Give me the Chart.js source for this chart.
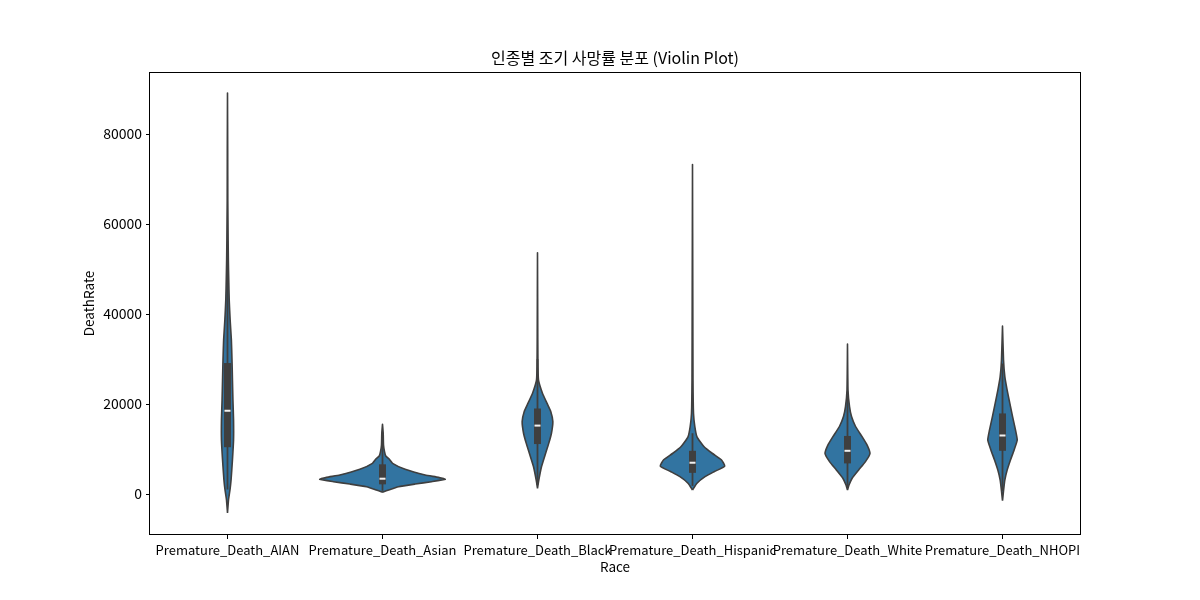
<!DOCTYPE html>
<html>
<head>
<meta charset="utf-8">
<script src="https://cdn.jsdelivr.net/npm/chart.js@4.4.1/dist/chart.umd.min.js"></script>
<style>
  html, body { margin: 0; padding: 0; background: #fff; }
  #wrap { width: 1200px; height: 600px; }
</style>
</head>
<body>
<div id="wrap"><canvas id="c" width="1200" height="600"></canvas></div>
<script>
// ---- data ----
const categories = ["Premature_Death_AIAN", "Premature_Death_Asian", "Premature_Death_Black",
                    "Premature_Death_Hispanic", "Premature_Death_White", "Premature_Death_NHOPI"];
const yTicks = [0, 20000, 40000, 60000, 80000];

// inner box statistics
const q1 = [10400, 2150, 11100, 4700, 6800, 9600];
const medians = [18500, 3400, 15200, 6950, 9600, 13000];
const q3 = [29100, 6600, 19000, 9600, 12900, 17900];
const whiskerLow = [1000, 700, 2000, 1800, 1500, 700];
const whiskerHigh = [52400, 12500, 30000, 13500, 21800, 29000];

// violin outlines: value levels and half-width (in category units) at each level
const aianY = [-4200, -1300, 900, 3100, 7600, 12000, 16400, 20900, 25300, 29800, 34200, 38700, 43100, 47600, 52000, 56400, 60900, 65300, 76400, 89100];
const aianW = [0, 0.0065, 0.016, 0.023, 0.032, 0.039, 0.039, 0.035, 0.032, 0.029, 0.025, 0.017, 0.011, 0.008, 0.0055, 0.004, 0.003, 0.0019, 0.0013, 0];
const asianY = [380, 890, 1620, 2220, 2730, 3270, 3700, 4220, 5480, 6820, 7780, 8440, 9400, 10900, 13500, 15500];
const asianW = [0, 0.039, 0.103, 0.211, 0.316, 0.405, 0.361, 0.275, 0.146, 0.065, 0.043, 0.021, 0.013, 0.0065, 0.0045, 0];
const blackY = [1270, 3100, 6100, 9000, 11300, 13500, 16100, 18300, 20200, 22400, 25300, 28300, 34200, 53600];
const blackW = [0, 0.0084, 0.026, 0.052, 0.073, 0.090, 0.099, 0.086, 0.061, 0.032, 0.0065, 0.0032, 0.0019, 0];
const hispanicY = [900, 2400, 3850, 5000, 6200, 7600, 9000, 10500, 12700, 15000, 17900, 25300, 43100, 73200];
const hispanicW = [0, 0.029, 0.081, 0.142, 0.208, 0.186, 0.129, 0.075, 0.029, 0.015, 0.0065, 0.0032, 0.0019, 0];
const whiteY = [900, 2000, 3500, 5300, 7200, 9000, 10900, 12700, 15000, 17200, 19400, 23100, 33300];
const whiteW = [0, 0.0097, 0.030, 0.071, 0.116, 0.145, 0.126, 0.095, 0.052, 0.026, 0.013, 0.0032, 0];
const nhopiY = [-1500, 700, 3100, 5300, 7600, 9800, 12000, 14200, 17200, 20200, 23100, 26100, 29800, 37300];
const nhopiW = [0, 0.0065, 0.015, 0.030, 0.052, 0.075, 0.095, 0.084, 0.065, 0.047, 0.030, 0.015, 0.0065, 0];

const violinYs = [aianY, asianY, blackY, hispanicY, whiteY, nhopiY];
const violinWs = [aianW, asianW, blackW, hispanicW, whiteW, nhopiW];

// ---- styling ----
const FILL = '#3274a1';
const DARK = '#3f3f3f';
const FONT = "'Noto Sans CJK KR', 'Noto Sans', sans-serif";
Chart.defaults.font.family = FONT;
Chart.defaults.color = '#000';

function violinPoints(i) {
  const ys = violinYs[i], ws = violinWs[i];
  const pts = [];
  for (let k = 0; k < ys.length; k++) pts.push({x: i + ws[k], y: ys[k]});
  for (let k = ys.length - 1; k >= 0; k--) pts.push({x: i - ws[k], y: ys[k]});
  return pts;
}

const datasets = [];
datasets.push({
  label: 'median', order: 1,
  data: categories.map((_, i) => ({x: i, y: medians[i]})),
  pointStyle: 'line', pointRadius: 3, pointBorderWidth: 2,
  pointBorderColor: '#f2f2f2', pointBackgroundColor: '#f2f2f2', showLine: false
});
categories.forEach((_, i) => {
  datasets.push({
    label: 'box' + i, order: 2, showLine: true, fill: false,
    data: [{x: i, y: q1[i]}, {x: i, y: q3[i]}],
    borderColor: DARK, borderWidth: 7, borderCapStyle: 'butt', pointRadius: 0
  });
  datasets.push({
    label: 'whisker' + i, order: 3, showLine: true, fill: false,
    data: [{x: i, y: whiskerLow[i]}, {x: i, y: whiskerHigh[i]}],
    borderColor: DARK, borderWidth: 1.8, borderCapStyle: 'butt', pointRadius: 0
  });
  datasets.push({
    label: 'violin' + i, order: 4, showLine: true,
    data: violinPoints(i),
    fill: 'shape', backgroundColor: FILL,
    borderColor: DARK, borderWidth: 1.6, borderJoinStyle: 'round',
    tension: 0.15, pointRadius: 0
  });
});

const framePlugin = {
  id: 'frame',
  afterDatasetsDraw(chart) {
    const {ctx, chartArea: a} = chart;
    ctx.save();
    ctx.strokeStyle = '#000';
    ctx.lineWidth = 1;
    ctx.strokeRect(Math.round(a.left) - 0.5, Math.round(a.top) + 0.5,
                   Math.round(a.right - a.left) + 1, Math.round(a.bottom - a.top) - 1);
    ctx.restore();
  }
};

new Chart(document.getElementById('c'), {
  type: 'scatter',
  data: { datasets },
  plugins: [framePlugin],
  options: {
    responsive: false,
    animation: false,
    events: [],
    layout: { padding: { left: 0, right: 120, top: 0, bottom: 0 } },
    plugins: {
      legend: { display: false },
      tooltip: { enabled: false },
      title: { display: false }
    },
    scales: {
      x: {
        type: 'linear', min: -0.5, max: 5.5,
        afterBuildTicks: s => { s.ticks = categories.map((_, i) => ({ value: i })); },
        afterFit: s => { s.height = 65; },
        ticks: {
          autoSkip: false, maxRotation: 0, minRotation: 0, padding: 3,
          font: { size: 13 }, color: '#000',
          callback: v => categories[v]
        },
        grid: { display: true, drawOnChartArea: false, drawTicks: true, tickLength: 4, color: '#000', tickWidth: 1 },
        border: { display: false },
        title: { display: true, text: 'Race', font: { size: 13.5 }, color: '#000', padding: { top: 0, bottom: 24.6 } }
      },
      x2: {
        type: 'linear', position: 'top', min: -0.5, max: 5.5,
        afterFit: s => { s.height = 72; },
        ticks: { display: false },
        grid: { display: false },
        border: { display: false },
        title: {
          display: true,
          text: '인종별 조기 사망률 분포 (Violin Plot)',
          font: { size: 16, weight: 'normal' }, color: '#000',
          padding: { top: 48.4, bottom: 0 }
        }
      },
      y: {
        type: 'linear', min: -9111, max: 93778,
        afterBuildTicks: s => { s.ticks = yTicks.map(v => ({ value: v })); },
        afterFit: s => { s.width = 150; },
        ticks: { padding: 4, font: { size: 14 }, color: '#000', callback: v => String(v) },
        grid: { display: true, drawOnChartArea: false, drawTicks: true, tickLength: 4, color: '#000', tickWidth: 1 },
        border: { display: false },
        title: { display: true, text: 'DeathRate', font: { size: 13.5 }, color: '#000', padding: { top: 80.8, bottom: 0 } }
      }
    }
  }
});
</script>
</body>
</html>
